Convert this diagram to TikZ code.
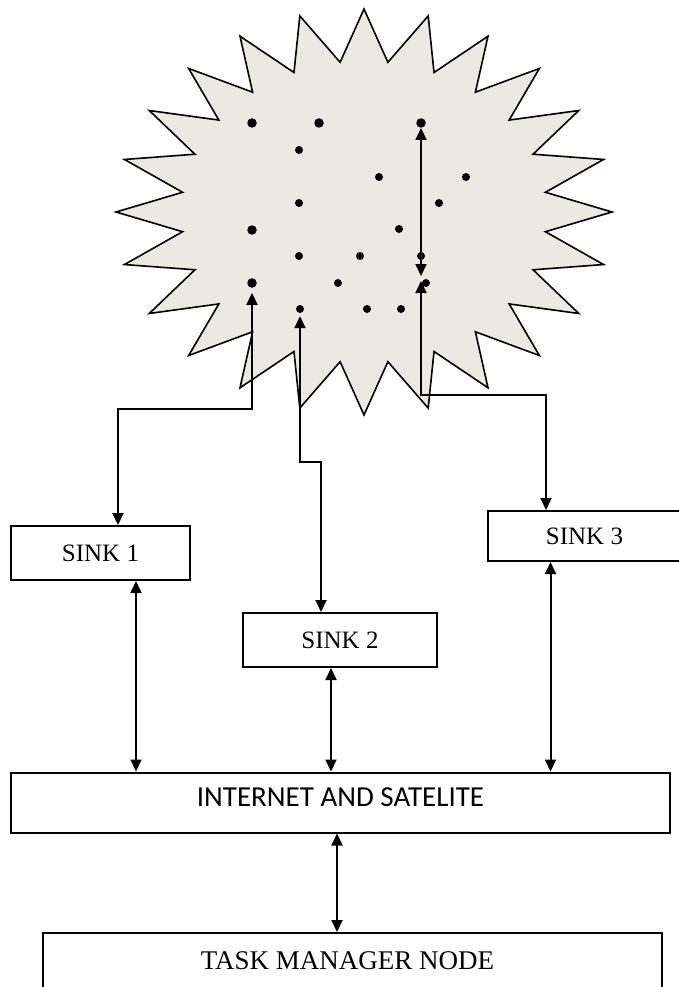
\documentclass[tikz,border=0pt]{standalone}
\usepackage{fontspec}
\setmainfont{Liberation Serif}
\newfontfamily\sansfam{Carlito}
\usetikzlibrary{arrows.meta}
\definecolor{starfill}{RGB}{234,234,226}
\begin{document}
\begin{tikzpicture}[x=1pt,y=-1pt,
  conn/.style={line width=2pt, {Triangle[length=12pt,width=11pt]}-{Triangle[length=12pt,width=11pt]}},
  box/.style={draw, line width=2pt, inner sep=0pt, font=\fontsize{25}{30}\selectfont},
  dot/.style={circle, fill=black, inner sep=0pt, minimum size=8pt},
  bigdot/.style={dot, minimum size=9.5pt}]
\fill[white] (0,0) rectangle (678,987);
\useasboundingbox (0,0) rectangle (678,987);
% star field
\path[draw=black, line width=1.6pt, fill=starfill, line join=miter]
  (612,212) \foreach \a in {0,15,...,345} {
    -- ({364+183*cos(\a+7.5)},{212-151*sin(\a+7.5)})
    -- ({364+248*cos(\a+15)},{212-203*sin(\a+15)}) } -- cycle;
% sensor dots
\node[bigdot] (d1) at (252,123) {};
\node[bigdot] (d2) at (319,123) {};
\node[bigdot] (d3) at (421,123) {};
\node[dot] (d4) at (299,150) {};
\node[dot] (d5) at (379,177) {};
\node[dot] (d6) at (466,177) {};
\node[dot] (d7) at (299,203) {};
\node[dot] (d8) at (439,203) {};
\node[bigdot] (d9) at (252,230) {};
\node[dot] (d10) at (399,229) {};
\node[dot] (d11) at (299,256) {};
\node[dot] (d12) at (360,256) {};
\node[dot] (d13) at (421,256) {};
\node[bigdot] (d14) at (252,283) {};
\node[dot] (d15) at (338,283) {};
\node[dot] (d16) at (426,283) {};
\node[dot] (d17) at (300,309) {};
\node[dot] (d18) at (367,309) {};
\node[dot] (d19) at (401,309) {};
% boxes
\node[box, minimum width=179pt, minimum height=54pt] (s1) at (100.5,553) {SINK 1};
\node[box, minimum width=194pt, minimum height=54pt] (s2) at (340,640) {SINK 2};
\node[box, minimum width=193pt, minimum height=50pt] (s3) at (584.5,536) {SINK 3};
\node[box, minimum width=659pt, minimum height=60pt, text depth=10pt,
      font=\sansfam\fontsize{29}{33}\selectfont] (net) at (340.5,802.5) {INTERNET AND SATELITE};
\node[box, minimum width=619pt, minimum height=55pt,
      font=\fontsize{27}{32}\selectfont] (task) at (352.5,960.5) {\hspace*{-10pt}TASK MANAGER NODE};
% connectors inside the field
\coordinate (t2) at (421,276);
\draw[conn] (d3.south) -- (t2);
\coordinate (t3) at (421,281);
\coordinate (b3) at (546,395);
\draw[conn] (t3) |- (b3) -- (b3 |- s3.north);
\coordinate (b1) at (118,409);
\draw[conn] ([yshift=-5pt]d14.south) |- (b1) -- (b1 |- s1.north);
\coordinate (b2) at (321,462);
\draw[conn] ([yshift=-3pt]d17.south) |- (b2) -- (b2 |- s2.north);
% sinks to network
\draw[conn] ([xshift=35.5pt]s1.south) coordinate (p1) -- (p1 |- net.north);
\draw[conn] ([xshift=-9pt]s2.south) coordinate (p2) -- (p2 |- net.north);
\draw[conn] ([xshift=-34pt]s3.south) coordinate (p3) -- (p3 |- net.north);
\draw[conn] ([xshift=-3.5pt]net.south) coordinate (p4) -- (p4 |- task.north);
\end{tikzpicture}
\end{document}
